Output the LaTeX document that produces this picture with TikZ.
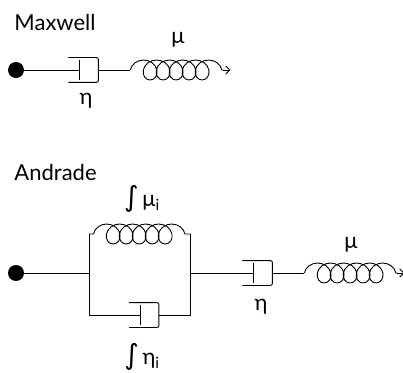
\documentclass[tikz,border=0pt]{standalone}
\usepackage{fontspec}
\setmainfont{Lato}
\newfontfamily\intfont{DejaVu Sans}
\usetikzlibrary{arrows.meta, positioning, calc, decorations.pathmorphing}

\tikzset{
  startdot/.style={circle, fill=black, inner sep=0pt, minimum size=16pt},
  dashbox/.style={rectangle, inner sep=0pt, minimum width=29pt, minimum height=24pt},
  springline/.style={decorate, decoration={coil, aspect=1.0, amplitude=10pt, segment length=13pt, pre length=0pt, post length=0pt}},
  label/.style={font=\fontsize{22}{24}\selectfont, inner sep=0pt}
}
\newcommand{\intsign}{{\intfont\fontsize{28}{28}\selectfont ∫}}

\begin{document}
\begin{tikzpicture}[x=1pt,y=1pt,node distance=10pt,>={Straight Barb[length=4pt,width=8pt]},line width=0.9pt]
\useasboundingbox (0,0) rectangle (403,372);

% Maxwell
\node[label, anchor=west] (mxtitle) at (14,350) {Maxwell};
\node[startdot] (mxstart) at (16,302) {};
\node[dashbox, right=44pt of mxstart] (mxdash) {};
\coordinate[right=32pt of mxdash] (mxspringa);
\coordinate[right=93pt of mxspringa] (mxspringb);
\coordinate[right=7pt of mxspringb] (mxtip);
\node[label] (mxeta) at (86,271) {η};
\node[label] (mxmu) at (178,332) {μ};

\draw (mxstart) -- ($(mxdash.west)+(11,0)$);
\draw[rounded corners=2pt] (mxdash.north west) -- (mxdash.north east) -- (mxdash.south east) -- (mxdash.south west);
\draw ($(mxdash.north west)+(11,-2)$) -- ($(mxdash.south west)+(11,2)$);
\draw (mxdash.east) -- (mxspringa);
\draw[springline] (mxspringa) -- (mxspringb);
\draw[->] (mxspringb) -- (mxtip);

% Andrade
\node[label, anchor=west] (antitle) at (14,200) {Andrade};
\node[startdot] (anstart) at (16,99) {};
\coordinate[right=65pt of anstart] (anleft);
\coordinate[right=101pt of anleft] (anright);
\coordinate[above=39pt of anleft] (antopa);
\coordinate[above=39pt of anright] (antopb);
\coordinate[below=42pt of anleft] (anbota);
\coordinate[below=42pt of anright] (anbotb);
\node[dashbox] (andashi) at ($(anbota)+(54.5,0)$) {};
\node[dashbox, right=52pt of anright] (andash) {};
\coordinate[right=32pt of andash] (anspringa);
\coordinate[right=93pt of anspringa] (anspringb);
\coordinate[right=7pt of anspringb] (antip);

% Labels
\node[label] (anmui) at (142,173) {\intsign\,μ\textsubscript{i}};
\node[label] (anetai) at (142,15) {\intsign\,η\textsubscript{i}};
\node[label] (aneta) at (261,65) {η};
\node[label] (anmu) at (351,127) {μ};

\draw (anstart) -- (anleft);
\draw (antopa) -- (anbota) -- ($(andashi.west)+(11,0)$);
\draw[rounded corners=2pt] (andashi.north west) -- (andashi.north east) -- (andashi.south east) -- (andashi.south west);
\draw ($(andashi.north west)+(11,-2)$) -- ($(andashi.south west)+(11,2)$);
\draw (andashi.east) -- (anbotb) -- (antopb);
\draw[springline, decoration={pre length=4pt, post length=4pt}] (antopa) -- (antopb);
\draw (anright) -- ($(andash.west)+(11,0)$);
\draw[rounded corners=2pt] (andash.north west) -- (andash.north east) -- (andash.south east) -- (andash.south west);
\draw ($(andash.north west)+(11,-2)$) -- ($(andash.south west)+(11,2)$);
\draw (andash.east) -- (anspringa);
\draw[springline] (anspringa) -- (anspringb);
\draw[->] (anspringb) -- (antip);
\end{tikzpicture}
\end{document}
